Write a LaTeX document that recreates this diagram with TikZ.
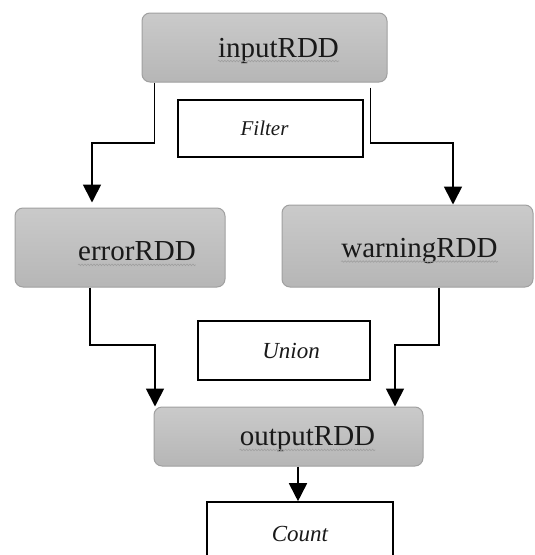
\documentclass[tikz,border=0pt]{standalone}
\usepackage{fontspec}
\setmainfont{Liberation Serif}
\usetikzlibrary{arrows.meta,decorations.pathmorphing,calc}
\definecolor{boxtop}{RGB}{202,202,202}
\definecolor{boxbot}{RGB}{182,182,182}
\definecolor{boxline}{RGB}{160,160,160}
\definecolor{ink}{RGB}{25,25,25}
\tikzset{
  rddbox/.style={draw=boxline, line width=1pt, rounded corners=8pt,
    top color=boxtop, bottom color=boxbot, inner sep=0pt},
  rddtext/.style={inner sep=0pt, text=ink, font=\fontsize{29}{34}\selectfont},
  opbox/.style={draw=black, line width=1.6pt, fill=white, inner sep=0pt, text=ink,
    font=\fontsize{23}{28}\selectfont\itshape},
  arr/.style={draw=black, line width=1.7pt, -{Triangle[width=18pt,length=18pt]}},
  wavy/.style={draw=gray!75, line width=0.6pt, decorate,
    decoration={snake, segment length=3pt, amplitude=0.8pt}}
}
\begin{document}
\begin{tikzpicture}[x=1pt,y=-1pt]
\useasboundingbox (0,0) rectangle (535,555);
\clip (0,0) rectangle (535,555);
\fill[white] (0,0) rectangle (535,555);

% RDD boxes
\node[rddbox, minimum width=245pt, minimum height=69pt] (in) at (264.5,47.5) {};
\node[rddbox, minimum width=210pt, minimum height=79pt] (err) at (120,247.5) {};
\node[rddbox, minimum width=251pt, minimum height=82pt] (warn) at (407.5,246) {};
\node[rddbox, minimum width=269pt, minimum height=59pt] (out) at (288.5,436.5) {};

% RDD texts
\node[rddtext] (int) at ([xshift=14pt,yshift=-3pt]in.center) {inputRDD};
\node[rddtext] (errt) at ([xshift=17pt,yshift=-4pt]err.center) {errorRDD};
\node[rddtext] (warnt) at ([xshift=12pt,yshift=-5pt]warn.center) {warningRDD};
\node[rddtext] (outt) at ([xshift=19pt,yshift=-3pt]out.center) {outputRDD};

\foreach \t in {int,errt,warnt,outt}{
  \draw[wavy] ([yshift=-4pt]\t.base west) -- ([yshift=-4pt]\t.base east);
}

% operation boxes
\node[opbox, minimum width=185pt, minimum height=57pt,
      font=\fontsize{21}{25}\selectfont\itshape] (filter) at (270.5,128.5) {\hspace*{-12pt}Filter};
\node[opbox, minimum width=172pt, minimum height=59pt] (union) at (284,350.5) {\hspace*{14pt}Union};
\node[opbox, minimum width=186pt, minimum height=64pt] (count) at (300,534) {Count};

% bend points
\coordinate (b1) at (92,143);
\coordinate (b2) at (453,143);
\coordinate (e1) at (90,345);
\coordinate (e2) at (155,345);
\coordinate (w1) at (439,345);
\coordinate (w2) at (395,345);
\coordinate (c1) at (298,0);

% connectors
\draw[arr, shorten >=5pt] ([xshift=13pt]in.south west) |- (b1) -- (err.north -| b1);
\draw[arr] ([xshift=-17pt,yshift=-5pt]in.south east) |- (b2) -- (warn.north -| b2);
\draw[arr] (err.south -| e1) -- (e1) -- (e2) -- (out.north -| e2);
\draw[arr] (warn.south -| w1) -- (w1) -- (w2) -- (out.north -| w2);
\draw[arr] (out.south -| c1) -- (count.north -| c1);
\end{tikzpicture}
\end{document}
